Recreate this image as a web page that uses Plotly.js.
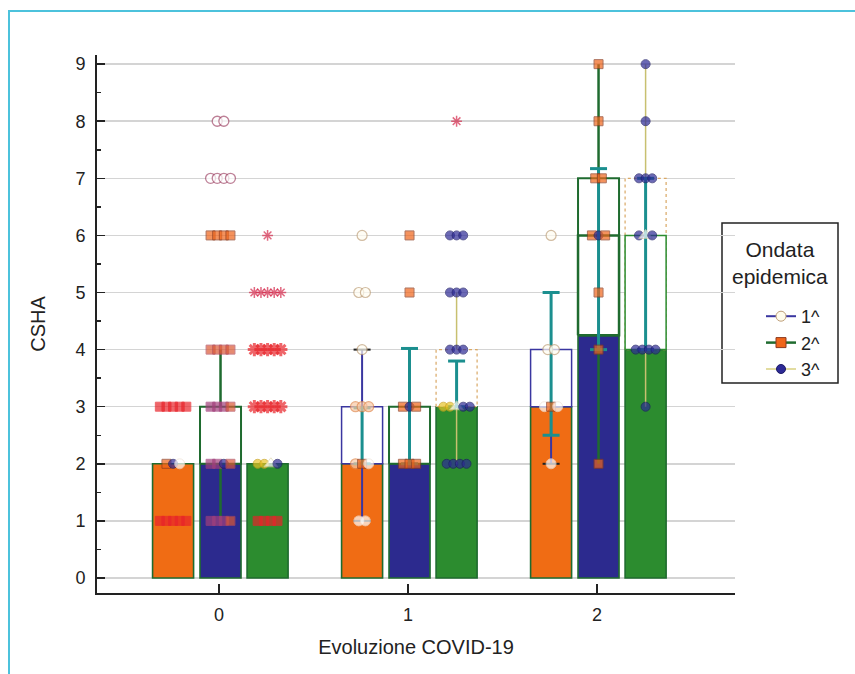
<!DOCTYPE html>
<html><head><meta charset="utf-8">
<script src="https://cdn.plot.ly/plotly-3.0.1.min.js"></script>
<style>
html,body{margin:0;padding:0;background:#fff;overflow:hidden;}
#chart{position:absolute;left:0;top:0;width:855px;height:674px;}
</style></head><body>
<div id="chart"></div>
<script>
// ---- data ----
const categories = [0, 1, 2];
const categoryLabels = ['0', '1', '2'];
const seriesNames = ['1^', '2^', '3^'];
const legendTitle = 'Ondata<br>epidemica';
const barValues1 = [2, 2, 3];
const barValues2 = [2, 2, 4.25];
const barValues3 = [2, 3, 4];
const boxLow1 = [null, 2, 3], boxHigh1 = [null, 3, 4];
const boxLow2 = [2, 2, 4.25], boxHigh2 = [3, 3, 7];
const boxLow3 = [null, 3, 4], boxHigh3 = [null, 4, 7];
const median2 = [null, null, 6];
const median3 = [null, null, 6];
const whiskLow1 = [null, 1, 2], whiskHigh1 = [null, 4, 3];
const whiskLow2 = [1, 2, 2], whiskHigh2 = [4, 4, 9];
const whiskLow3 = [null, 2, 3], whiskHigh3 = [null, 5, 9];
const ciLow1 = [null, 2, 2.5], ciHigh1 = [null, 2.98, 5];
const ciLow2 = [null, 2, 4], ciHigh2 = [null, 4.02, 7.17];
const ciLow3 = [null, 3, 4], ciHigh3 = [null, 3.8, 7];
// observations: [category, series column, value, marker sequence (one char per observation)]
const pointClusters = [
  [0,0,3,'rrrrr'],[0,0,2,'sdw'],[0,0,1,'rrrrr'],
  [0,1,8,'mm'],[0,1,7,'mmmm'],[0,1,6,'ssss'],[0,1,4,'qqqq'],[0,1,3,'pppq'],[0,1,2,'ppdq'],[0,1,1,'pppq'],
  [0,2,6,'a'],[0,2,5,'aaaaa'],[0,2,4,'AAAAA'],[0,2,3,'AAAAA'],[0,2,2,'yytd'],[0,2,1,'rrrr'],
  [1,0,6,'o'],[1,0,5,'oo'],[1,0,4,'o'],[1,0,3,'ccc'],[1,0,2,'csw'],[1,0,1,'ww'],
  [1,1,6,'s'],[1,1,5,'s'],[1,1,3,'sds'],[1,1,2,'sss'],
  [1,2,8,'a'],[1,2,6,'ddd'],[1,2,5,'ddd'],[1,2,4,'ddd'],[1,2,3,'yytdd'],[1,2,2,'dddd'],
  [2,0,6,'o'],[2,0,4,'oo'],[2,0,3,'wsw'],[2,0,2,'w'],
  [2,1,9,'s'],[2,1,8,'s'],[2,1,7,'ss'],[2,1,6,'sds'],[2,1,5,'s'],[2,1,4,'s'],[2,1,2,'s'],
  [2,2,9,'d'],[2,2,8,'d'],[2,2,7,'ddd'],[2,2,6,'dtd'],[2,2,4,'dddd'],[2,2,3,'d']
];

// ---- styling / geometry ----
const offsets = [-0.243, 0.008, 0.257];
const barW = 0.217, jit = 0.035, capW = 0.045;
const fills = ['#F06C14', '#2C2A8E', '#2C8C2F'];
const dkGreen = '#1F6B2F', navyLine = '#3A36A0', olive = '#C8C070', teal = '#1B8F8F';
const kinds = {
  o:{symbol:'circle',color:'#FFFDF2',line:'#BFA07A',lw:1.2,size:10},
  m:{symbol:'circle',color:'#FFFFFF',line:'#A34C6C',lw:1.3,size:10},
  c:{symbol:'circle',color:'#F9C9A6',line:'#E08A50',lw:1.2,size:10},
  w:{symbol:'circle',color:'#FFFFFF',line:'#EFE2D6',lw:1,size:10},
  s:{symbol:'square',color:'#F0651A',line:'#8C3A1E',lw:1,size:9},
  q:{symbol:'square',color:'#DC5A34',line:'#B24A5A',lw:1,size:9},
  p:{symbol:'square',color:'#A2407C',line:'#A2407C',lw:1,size:9},
  d:{symbol:'circle',color:'#2D2A96',line:'#1C1A66',lw:1,size:9},
  r:{symbol:'square',color:'#E8242A',line:'#E8242A',lw:1,size:9},
  a:{symbol:'asterisk-open',color:'#D42A4C',line:'#D42A4C',lw:1.5,size:9},
  A:{symbol:'asterisk-open',color:'#E8242A',line:'#E8242A',lw:3,size:11},
  y:{symbol:'circle',color:'#E8C428',line:'#C8A018',lw:1,size:9},
  t:{symbol:'triangle-up',color:'#FFFFFF',line:'#E0D8B0',lw:1,size:12}
};
const colX = (c, s) => c + offsets[s];

const traces = [];
const skip = {showlegend:false, hoverinfo:'skip'};

// bars
[barValues1, barValues2, barValues3].forEach((vals, s) => {
  traces.push(Object.assign({type:'bar', x:categories.map(c => colX(c, s)), y:vals, width:barW,
    marker:{color:fills[s], line:{color:dkGreen, width:1.6}}}, skip));
});

function vsegs(lo, hi, s) {
  const x = [], y = [];
  categories.forEach((c, i) => { if (lo[i] == null) return; x.push(colX(c, s), colX(c, s), null); y.push(lo[i], hi[i], null); });
  return {x, y};
}
function hcaps(lo, hi, s, w) {
  const x = [], y = [];
  categories.forEach((c, i) => { if (lo[i] == null) return;
    [lo[i], hi[i]].forEach(v => { x.push(colX(c, s) - w, colX(c, s) + w, null); y.push(v, v, null); }); });
  return {x, y};
}
function rects(lo, hi, s) {
  const x = [], y = [];
  categories.forEach((c, i) => { if (lo[i] == null) return;
    const l = colX(c, s) - barW / 2, r = colX(c, s) + barW / 2;
    x.push(l, l, r, r, l, null); y.push(lo[i], hi[i], hi[i], lo[i], lo[i], null); });
  return {x, y};
}
function lineTrace(d, color, width, dash, fill) {
  const t = Object.assign({type:'scatter', mode:'lines', x:d.x, y:d.y, line:{color, width, dash:dash || 'solid'}}, skip);
  if (fill) { t.fill = 'toself'; t.fillcolor = '#FFFFFF'; }
  return t;
}

// whiskers
traces.push(lineTrace(vsegs(whiskLow1, whiskHigh1, 0), navyLine, 2));
traces.push(lineTrace(hcaps(whiskLow1, whiskHigh1, 0, capW), '#222', 2));
traces.push(lineTrace(vsegs(whiskLow2, whiskHigh2, 1), dkGreen, 2.5));
traces.push(lineTrace(vsegs(whiskLow3, whiskHigh3, 2), olive, 1.5));
// boxes
traces.push(lineTrace(rects(boxLow1, boxHigh1, 0), navyLine, 1.5, 'solid', true));
traces.push(lineTrace(rects(boxLow2, boxHigh2, 1), dkGreen, 2, 'solid', true));
traces.push(lineTrace(rects(boxLow3, boxHigh3, 2), '#D9A865', 1.2, 'dot', true));
traces.push(lineTrace(rects(barValues2.map((v, i) => median2[i] == null ? null : v), median2, 1), dkGreen, 2.5, 'solid', true));
traces.push(lineTrace(rects(barValues3.map((v, i) => median3[i] == null ? null : v), median3, 2), '#2C8C2F', 1.5, 'solid', true));
// confidence bars (teal)
[[ciLow1, ciHigh1], [ciLow2, ciHigh2], [ciLow3, ciHigh3]].forEach(([lo, hi], s) => {
  traces.push(lineTrace(vsegs(lo, hi, s), teal, 3));
  traces.push(lineTrace(hcaps(lo, hi, s, capW), teal, 3));
});

// observations
const P = {x:[], y:[], sym:[], col:[], lc:[], lw:[], sz:[]};
pointClusters.forEach(([c, s, v, seq]) => {
  const n = seq.length;
  [...seq].forEach((k, i) => {
    const st = kinds[k];
    P.x.push(colX(c, s) + (i - (n - 1) / 2) * jit); P.y.push(v);
    P.sym.push(st.symbol); P.col.push(st.color); P.lc.push(st.line); P.lw.push(st.lw); P.sz.push(st.size);
  });
});
traces.push(Object.assign({type:'scatter', mode:'markers', x:P.x, y:P.y, cliponaxis:false,
  marker:{symbol:P.sym, color:P.col, size:P.sz, line:{color:P.lc, width:P.lw}}}, skip));

// legend entries
const legendStyles = [
  {line:{color:navyLine, width:2}, marker:{symbol:'circle', size:10, color:'#FFFCEC', line:{color:'#BFA07A', width:1}}},
  {line:{color:dkGreen, width:2.5}, marker:{symbol:'square', size:10, color:'#F0651A', line:{color:'#8C3A1E', width:1}}},
  {line:{color:'#D8D080', width:1.5}, marker:{symbol:'circle', size:9, color:'#2D2A96', line:{color:'#1C1A66', width:1}}}
];
seriesNames.forEach((nm, s) => traces.push(Object.assign({type:'scatter', mode:'lines+markers', x:[null], y:[null], name:nm, showlegend:true}, legendStyles[s])));

// paper coords helpers (plot area: x 97..735, y 55..593 px)
const px2x = p => (p - 97) / 638, px2y = p => (593 - p) / 538;
const frameColor = '#4CC2DC';

const layout = {
  width:855, height:674, margin:{l:97, r:120, t:55, b:81},
  paper_bgcolor:'#FFFFFF', plot_bgcolor:'rgba(0,0,0,0)', barmode:'overlay',
  font:{family:'"Liberation Sans", Arial, sans-serif', size:18, color:'#222'},
  xaxis:{range:[-0.6455, 2.73], tickvals:categories, ticktext:categoryLabels, ticks:'inside', ticklen:9, tickwidth:2,
    tickcolor:'#222', showline:true, linecolor:'#222', linewidth:2, showgrid:false, zeroline:false,
    ticklabelstandoff:4, title:{text:'Evoluzione COVID-19', standoff:16, font:{size:20}}},
  yaxis:{range:[-0.263, 9.16], dtick:1, tick0:0, ticks:'inside', ticklen:8, tickwidth:1.5, tickcolor:'#222',
    showline:true, linecolor:'#222', linewidth:2, showgrid:true, gridcolor:'#D4D4D4', gridwidth:1.5, zeroline:false,
    ticklabelstandoff:6,
    minor:{dtick:0.5, ticks:'inside', ticklen:4, tickwidth:1.5, tickcolor:'#222', showgrid:false},
    title:{text:'CSHA', standoff:24, font:{size:20}}},
  legend:{x:px2x(761), y:px2y(298), xanchor:'left', yanchor:'top', bgcolor:'rgba(0,0,0,0)', borderwidth:0,
    font:{size:18}, tracegroupgap:0},
  shapes:[
    {type:'rect', xref:'paper', yref:'paper', x0:px2x(722), x1:px2x(838), y0:px2y(383), y1:px2y(223),
      line:{color:'#222', width:1.5}, fillcolor:'#FFFFFF', layer:'below'},
    {type:'line', xref:'paper', yref:'paper', x0:px2x(9), x1:px2x(9), y0:px2y(10), y1:px2y(700), line:{color:frameColor, width:2}},
    {type:'line', xref:'paper', yref:'paper', x0:px2x(8), x1:px2x(900), y0:px2y(11), y1:px2y(11), line:{color:frameColor, width:2}}
  ],
  annotations:[{xref:'paper', yref:'paper', x:px2x(780), y:px2y(263), text:legendTitle, showarrow:false,
    align:'center', xanchor:'center', yanchor:'middle', font:{size:21}}],
  showlegend:true
};
Plotly.newPlot('chart', traces, layout, {displayModeBar:false, staticPlot:true});
</script></body></html>
